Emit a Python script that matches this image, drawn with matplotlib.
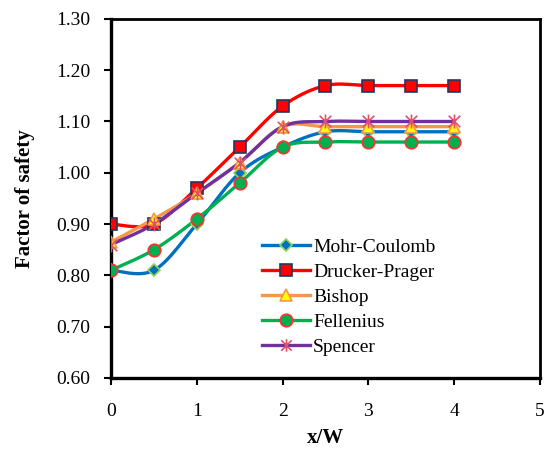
import numpy as np
import matplotlib
matplotlib.use("Agg")
import matplotlib.pyplot as plt
from matplotlib.path import Path

x = [0, 0.5, 1, 1.5, 2, 2.5, 3, 3.5, 4]
mohr = [0.81, 0.81, 0.90, 1.00, 1.05, 1.08, 1.08, 1.08, 1.08]
drucker = [0.90, 0.90, 0.97, 1.05, 1.13, 1.17, 1.17, 1.17, 1.17]
bishop = [0.865, 0.91, 0.96, 1.02, 1.09, 1.09, 1.09, 1.09, 1.09]
fellenius = [0.81, 0.85, 0.91, 0.98, 1.05, 1.06, 1.06, 1.06, 1.06]
spencer = [0.86, 0.90, 0.96, 1.02, 1.09, 1.10, 1.10, 1.10, 1.10]
labels = ["Mohr-Coulomb", "Drucker-Prager", "Bishop", "Fellenius", "Spencer"]
xticks = [0, 1, 2, 3, 4, 5]
yticks = [0.60, 0.70, 0.80, 0.90, 1.00, 1.10, 1.20, 1.30]


def smooth(xs, ys, n=30):
    p = np.column_stack([xs, ys]).astype(float)
    m = len(p)
    out = []
    for i in range(m - 1):
        p0 = p[i - 1] if i > 0 else p[i]
        p1 = p[i]
        p2 = p[i + 1]
        p3 = p[i + 2] if i + 2 < m else p[i + 1]
        c1 = p1 + (p2 - p0) / 6.0
        c2 = p2 - (p3 - p1) / 6.0
        t = np.linspace(0, 1, n)[:, None]
        seg = ((1 - t) ** 3) * p1 + 3 * ((1 - t) ** 2) * t * c1 + 3 * (1 - t) * t ** 2 * c2 + t ** 3 * p2
        out.append(seg if i == 0 else seg[1:])
    s = np.vstack(out)
    return s[:, 0], s[:, 1]


asterisk = Path([(-1, -1), (1, 1), (-1, 1), (1, -1), (0, -1.2), (0, 1.2)],
                [Path.MOVETO, Path.LINETO, Path.MOVETO, Path.LINETO, Path.MOVETO, Path.LINETO])

plt.rcParams['font.family'] = ['Liberation Serif', 'DejaVu Serif']
fig = plt.figure(figsize=(5.45, 4.5), dpi=100)
ax = fig.add_axes([0.2037, 0.16, 0.787, 0.798])

styles = [
    dict(color='#0070C0', marker='D', mfc='#0070C0', mec='#92D050', ms=6, lms=6),
    dict(color='#FF0000', marker='s', mfc='#FF0000', mec='#1F3864', ms=9, lms=9),
    dict(color='#F79646', marker='^', mfc='#FFFF00', mec='#F79646', ms=9, lms=8),
    dict(color='#00B050', marker='o', mfc='#00B050', mec='#FF3030', ms=9, lms=9),
    dict(color='#7030A0', marker=asterisk, mfc='none', mec='#E0506A', ms=10, lms=9),
]
series = [mohr, drucker, bishop, fellenius, spencer]
for ys, st, lab in zip(series, styles, labels):
    sx, sy = smooth(x, ys)
    ax.plot(sx, sy, color=st['color'], lw=2.4, zorder=2)
    ax.plot(x, ys, ls='none', marker=st['marker'], mfc=st['mfc'], mec=st['mec'],
            ms=st['ms'], mew=1.2, zorder=3)
    ax.plot([], [], color=st['color'], lw=2.4, marker=st['marker'], mfc=st['mfc'],
            mec=st['mec'], ms=st['lms'], mew=1.2, label=lab)

ax.set_xlim(0, 5)
ax.set_ylim(0.60, 1.30)
ax.set_xticks(xticks)
ax.set_yticks(yticks)
ax.set_yticklabels([f"{v:.2f}" for v in yticks])
ax.tick_params(direction='out', length=5, width=1.5, labelsize=14, colors='black')
ax.tick_params(axis='x', pad=13)
ax.tick_params(axis='y', pad=10)
for sp in ['left', 'bottom']:
    ax.spines[sp].set_linewidth(2.4)
for sp in ['top', 'right']:
    ax.spines[sp].set_linewidth(2.0)

ax.set_xlabel("x/W", fontsize=15, fontweight='bold')
ax.set_ylabel("Factor of safety", fontsize=15, fontweight='bold')
ax.yaxis.set_label_coords(-0.20, 0.5)
ax.xaxis.set_label_coords(0.5, -0.167)
ax.xaxis.label.set_va('center')
ax.yaxis.label.set_va('center')

ax.legend(loc='upper left', bbox_to_anchor=(0.333, 0.411), frameon=False, fontsize=14,
          handlelength=2.5, labelspacing=0.38, handletextpad=0.15, borderaxespad=0)

fig.savefig("out.png", dpi=100)
